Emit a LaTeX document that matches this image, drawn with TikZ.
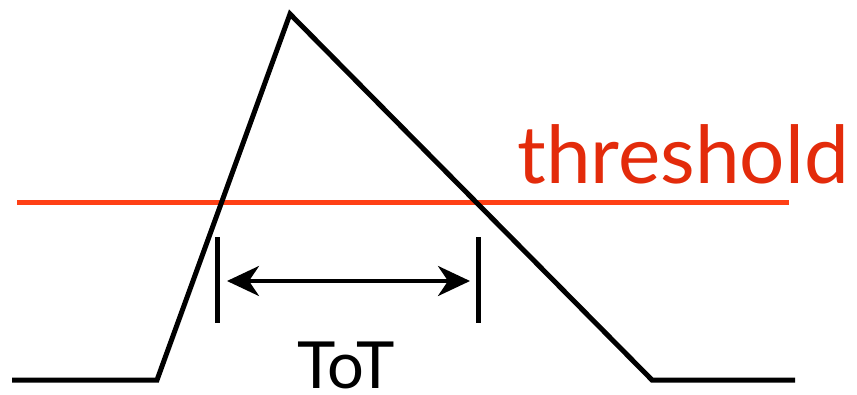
\documentclass[tikz,border=0pt]{standalone}
\usepackage{fontspec}
\setmainfont{Lato}
\usetikzlibrary{arrows.meta}
\definecolor{thr}{HTML}{FF4015}
\definecolor{thrtext}{HTML}{E32B0B}
\tikzset{
  signal/.style={line width=5pt, black, line join=miter},
  thrline/.style={line width=5pt, thr},
  tick/.style={line width=5pt, black},
  span/.style={line width=3.8pt, black, {Stealth[length=32pt,width=30pt,inset=10pt]}-{Stealth[length=32pt,width=30pt,inset=10pt]}},
}
\begin{document}
\begin{tikzpicture}[x=1pt,y=-1pt]
\useasboundingbox (0,0) rectangle (857,394);
\coordinate (b0) at (12,380);
\coordinate (b1) at (157,380);
\coordinate (pk) at (290,14);
\coordinate (b2) at (652,380);
\coordinate (b3) at (795,380);
\coordinate (t0) at (17,202);
\coordinate (t1) at (789,202);
\coordinate (m1a) at (217,237);
\coordinate (m1b) at (217,323);
\coordinate (m2a) at (478,237);
\coordinate (m2b) at (478,323);
\coordinate (a1) at (227,281);
\coordinate (a2) at (470,281);
\draw[thrline] (t0) -- (t1);
\draw[signal] (b0) -- (b1) -- (pk) -- (b2) -- (b3);
\draw[tick] (m1a) -- (m1b);
\draw[tick] (m2a) -- (m2b);
\draw[span] (a1) -- (a2);
\node[anchor=base east, inner sep=0pt, text=thrtext, font=\fontsize{80}{96}\selectfont] (thr) at (849,183) {threshold};
\node[anchor=base, inner sep=0pt, font=\fontsize{65}{76}\selectfont] (tot) at (346,388) {ToT};
\end{tikzpicture}
\end{document}
